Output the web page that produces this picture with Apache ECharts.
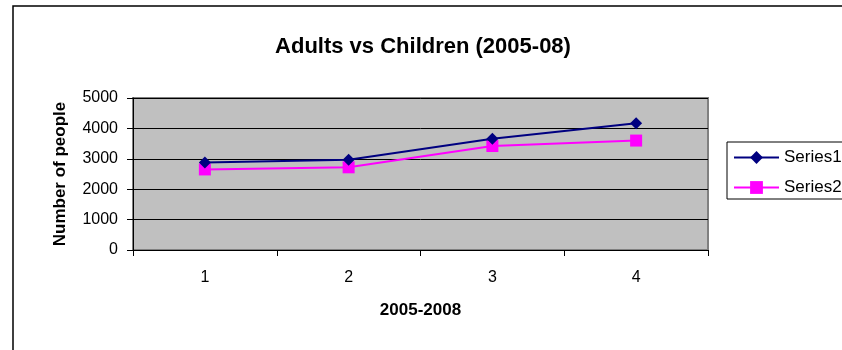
<!DOCTYPE html>
<html>
<head>
<meta charset="utf-8">
<script src="https://cdn.jsdelivr.net/npm/echarts@6/dist/echarts.min.js"></script>
<style>
  html, body { margin: 0; padding: 0; background: #fff; }
  #chart { width: 842px; height: 350px; }
</style>
</head>
<body>
<div id="chart"></div>
<script>
// Yearly counts 2005-2008
const categories = ['1', '2', '3', '4'];
const series1 = [2880, 2970, 3660, 4170];
const series2 = [2650, 2720, 3420, 3600];
const yTicks = { min: 0, max: 5000, interval: 1000 };

const chart = echarts.init(document.getElementById('chart'), null, { renderer: 'canvas' });
const font = 'Liberation Sans, Arial, sans-serif';

chart.setOption({
  animation: false,
  backgroundColor: '#ffffff',
  textStyle: { fontFamily: font },
  graphic: [
    {
      type: 'rect',
      shape: { x: 13, y: 6, width: 900, height: 400 },
      style: { fill: 'none', stroke: '#000', lineWidth: 1.5 },
      silent: true,
      z: -1
    }
  ],
  title: {
    text: 'Adults vs Children (2005-08)',
    left: 418,
    textAlign: 'center',
    top: 31,
    textStyle: { fontFamily: font, fontSize: 22, fontWeight: 'bold', color: '#000' }
  },
  legend: {
    orient: 'vertical',
    left: 727,
    top: 142,
    padding: [7, 30, 3, 6],
    itemGap: 13,
    itemWidth: 45,
    itemHeight: 16,
    borderColor: '#000',
    borderWidth: 1,
    textStyle: { fontFamily: font, fontSize: 17, lineHeight: 16, color: '#000', padding: [0, 0, 0, 0] },
    data: ['Series1', 'Series2']
  },
  grid: {
    left: 133,
    right: 134,
    top: 98,
    bottom: 100,
    show: true,
    backgroundColor: '#c0c0c0',
    borderColor: '#808080',
    borderWidth: 2
  },
  xAxis: {
    type: 'category',
    data: categories,
    boundaryGap: true,
    name: '2005-2008',
    nameLocation: 'middle',
    nameGap: 52,
    nameTextStyle: { fontFamily: font, fontSize: 17, fontWeight: 'bold', color: '#000' },
    axisLine: { lineStyle: { color: '#000', width: 1 } },
    axisTick: { show: true, length: 6, lineStyle: { color: '#000' } },
    axisLabel: { fontFamily: font, fontSize: 16, color: '#000', margin: 20 },
    splitLine: { show: false }
  },
  yAxis: {
    type: 'value',
    min: yTicks.min,
    max: yTicks.max,
    interval: yTicks.interval,
    name: 'Number of people',
    nameLocation: 'middle',
    nameGap: 64,
    nameRotate: 90,
    nameTextStyle: { fontFamily: font, fontSize: 17, fontWeight: 'bold', color: '#000' },
    axisLine: { show: true, lineStyle: { color: '#000', width: 1 } },
    axisTick: { show: true, length: 6, lineStyle: { color: '#000' } },
    axisLabel: { fontFamily: font, fontSize: 16, color: '#000', margin: 15, formatter: v => String(v) },
    splitLine: { show: true, lineStyle: { color: '#000', width: 1 } }
  },
  series: [
    {
      name: 'Series1',
      type: 'line',
      data: series1,
      symbol: 'diamond',
      symbolSize: 12,
      color: '#000080',
      lineStyle: { color: '#000080', width: 2 },
      itemStyle: { color: '#000080' },
      z: 3
    },
    {
      name: 'Series2',
      type: 'line',
      data: series2,
      symbol: 'rect',
      symbolSize: 12,
      color: '#ff00ff',
      lineStyle: { color: '#ff00ff', width: 2 },
      itemStyle: { color: '#ff00ff' },
      z: 2
    }
  ]
});
</script>
</body>
</html>
